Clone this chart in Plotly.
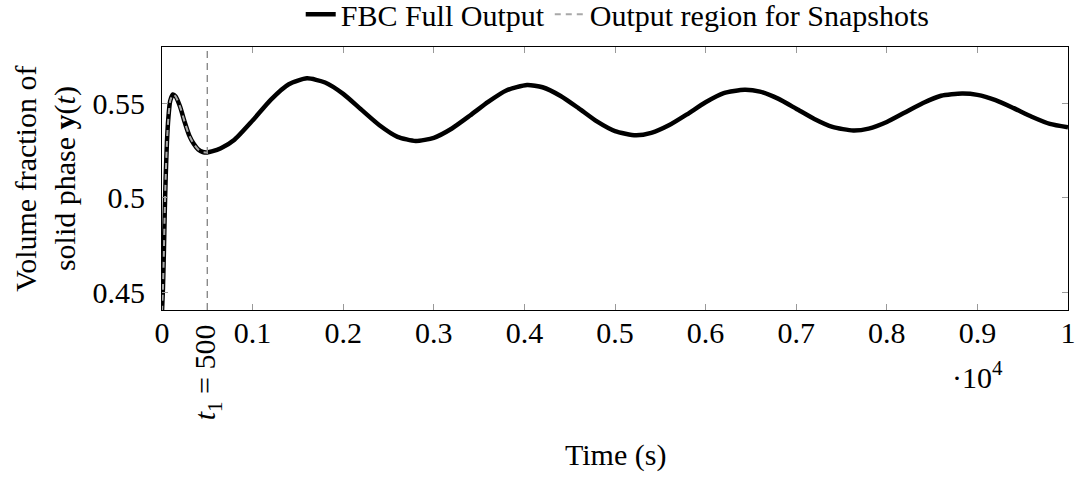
import plotly.graph_objects as go

# ---- data ----
t_full = [0, 10, 20, 30, 40, 55, 70, 90, 120, 150, 200, 250, 300, 350, 400, 450, 500,
          550, 650, 800, 1000, 1200, 1400, 1600, 1800, 2000, 2200, 2400, 2600, 2800,
          3000, 3200, 3400, 3600, 3800, 4030, 4200, 4400, 4600, 4800, 5000, 5230,
          5400, 5600, 5800, 6000, 6200, 6430, 6600, 6800, 7000, 7200, 7400, 7630,
          7800, 8000, 8200, 8400, 8600, 8830, 9000, 9200, 9400, 9600, 9800, 10000]
y_full = [0.440, 0.452, 0.470, 0.492, 0.510, 0.530, 0.542, 0.551, 0.5545, 0.5535, 0.548,
          0.540, 0.533, 0.5285, 0.5255, 0.5242, 0.5240,
          0.5245, 0.5262, 0.5307, 0.5408, 0.5517, 0.5599, 0.5630, 0.5608, 0.5548,
          0.5465, 0.5383, 0.5322, 0.5300,
          0.5317, 0.5366, 0.5434, 0.5506, 0.5566, 0.5595, 0.5583, 0.5537, 0.5472,
          0.5403, 0.5352, 0.5330,
          0.5343, 0.5384, 0.5442, 0.5504, 0.5552, 0.5570, 0.5560, 0.5523, 0.5470,
          0.5416, 0.5374, 0.5355,
          0.5365, 0.5400, 0.5450, 0.5500, 0.5538, 0.5550, 0.5543, 0.5515, 0.5473,
          0.5428, 0.5390, 0.5372]
t1 = 500
x_ticks = [0, 1000, 2000, 3000, 4000, 5000, 6000, 7000, 8000, 9000, 10000]
x_ticktext = ["0", "0.1", "0.2", "0.3", "0.4", "0.5", "0.6", "0.7", "0.8", "0.9", "1"]
y_ticks = [0.45, 0.5, 0.55]
y_ticktext = ["0.45", "0.5", "0.55"]

t_snap = [t for t in t_full if t <= t1]
y_snap = y_full[:len(t_snap)]

FONT = "Liberation Serif"
FS = 30

fig = go.Figure()
fig.add_trace(go.Scatter(x=t_full, y=y_full, mode="lines", name="FBC Full Output",
                         line=dict(color="black", width=4.5, shape="spline", smoothing=0.6)))
fig.add_trace(go.Scatter(x=t_snap, y=y_snap, mode="lines", name="Output region for Snapshots",
                         line=dict(color="#a8a8a8", width=2, dash="6px,5px",
                                   shape="spline", smoothing=0.6)))

# vertical dashed line at t1
fig.add_shape(type="line", x0=t1, x1=t1, y0=0, y1=1, xref="x", yref="paper",
              line=dict(color="#8a8a8a", width=1.4, dash="7px,5px"))

fig.update_xaxes(range=[0, 10000], tickvals=x_ticks, ticktext=x_ticktext,
                 ticks="inside", ticklen=6, tickcolor="#999", mirror="ticks",
                 showline=True, linecolor="black", linewidth=1.2, showgrid=False,
                 zeroline=False, tickfont=dict(family=FONT, size=FS, color="black"),
                 ticklabelstandoff=-4)
fig.update_yaxes(range=[0.441, 0.5795], tickvals=y_ticks, ticktext=y_ticktext,
                 ticks="inside", ticklen=6, tickcolor="#999", mirror="ticks",
                 showline=True, linecolor="black", linewidth=1.2, showgrid=False,
                 zeroline=False, tickfont=dict(family=FONT, size=FS, color="black"),
                 ticklabelstandoff=10)

fig.add_annotation(x=t1, y=0, xref="x", yref="paper", yshift=-12,
                   text="<i>t</i><sub>1</sub> = 500", textangle=-90, showarrow=False,
                   xanchor="center", yanchor="top",
                   font=dict(family=FONT, size=FS, color="black"))
fig.add_annotation(x=0.9, y=-0.247, xref="paper", yref="paper",
                   text="·10<sup>4</sup>", showarrow=False, xanchor="center", yanchor="middle",
                   font=dict(family=FONT, size=FS, color="black"))
fig.add_annotation(x=0.5, y=-0.551, xref="paper", yref="paper",
                   text="Time (s)", showarrow=False, xanchor="center", yanchor="middle",
                   font=dict(family=FONT, size=FS, color="black"))
fig.add_annotation(x=-0.129, y=0.5, xref="paper", yref="paper",
                   text="Volume fraction of<br>solid phase <b>y</b>(<i>t</i>)", textangle=-90,
                   showarrow=False, xanchor="center", yanchor="middle",
                   font=dict(family=FONT, size=FS, color="black"))

fig.update_layout(width=1079, height=483,
                  margin=dict(l=162, r=11, t=47, b=173, autoexpand=False),
                  plot_bgcolor="white", paper_bgcolor="white",
                  showlegend=True,
                  legend=dict(orientation="h", x=0.503, y=1.125, xanchor="center", yanchor="middle",
                              font=dict(family=FONT, size=FS, color="black"),
                              itemwidth=30, tracegroupgap=0, bgcolor="rgba(0,0,0,0)"))

fig.write_html("out.html")
